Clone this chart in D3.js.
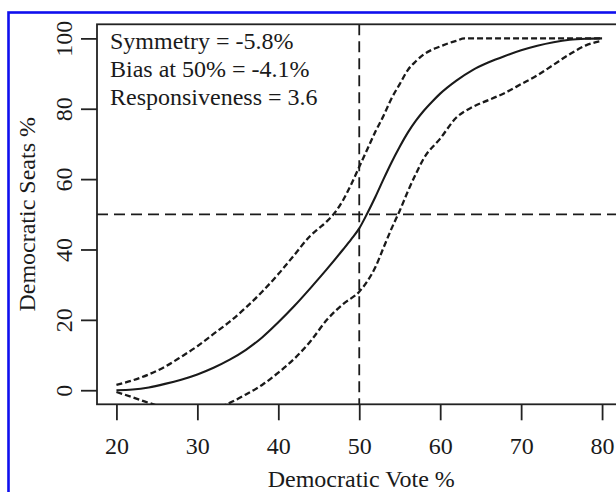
<!DOCTYPE html>
<html>
<head>
<meta charset="utf-8">
<script src="https://cdn.jsdelivr.net/npm/d3@7/dist/d3.min.js"></script>
<style>
  html, body { margin: 0; padding: 0; background: #fff; }
  svg { display: block; }
</style>
</head>
<body>
<svg id="chart" width="616" height="492"></svg>
<script>
// ---- data ----
const xTicks = [20, 30, 40, 50, 60, 70, 80];
const yTicks = [0, 20, 40, 60, 80, 100];
const annotations = ["Symmetry = -5.8%", "Bias at 50% = -4.1%", "Responsiveness = 3.6"];
const xTitle = "Democratic Vote %";
const yTitle = "Democratic Seats %";

const voteSolid = [20,22,24,26,28,30,32,34,36,38,40,42,44,46,48,49,50,51,52,53,54,55,56,57,58,59,60,62,64,66,68,70,72,74,76,78,80];
const seatsSolid = [0,0.2,0.8,1.8,3,4.5,6.4,8.7,11.5,15,19.3,24,29.1,34.4,40,42.9,46,50.3,55,60,64.8,69.2,73.2,76.6,79.5,82,84.3,88,91,93.2,95,96.6,97.9,98.9,99.6,99.9,100];

const voteUpper = [20,22,24,26,28,30,32,34,36,38,40,42,44,45,46,47,48,49,50,51,52,53,54,55,56,57,58,59,60,61,62,63,66,70,75,80];
const seatsUpper = [1.5,2.8,4.5,6.7,9.5,12.5,16,19.5,23.5,28,33,38.5,44,46,48,50.5,54,58.5,63.5,68.5,73.5,78,83,87,91,93.5,95.5,96.8,97.7,98.6,99.3,100,100,100,100,100];

const voteLower = [20,22,24,26,28,30,32,34,36,38,40,42,44,46,48,50,51,52,53,54,55,56,57,58,60,62,64,66,68,70,72,74,76,78,80];
const seatsLower = [-0.5,-2,-3.6,-5,-6,-6.5,-5.5,-3.6,-1.2,1.5,5,9,14,20,24.5,28,31,35,40.5,46,51,56.5,61.5,66,71.5,77.5,80.5,82.5,84.5,87,89.5,92.5,95.5,98,99.3];

const refVote = 50;
const refSeats = 50;

// ---- layout ----
const svg = d3.select("#chart");
const pLeft = 97, pRight = 621.5, pTop = 24.3, pBottom = 404.3;
const font = "'Liberation Serif', 'Times New Roman', serif";
const fs = 24;
const ink = "#1a1a1a";

const x = d3.scaleLinear().domain([17.6, 82.4]).range([pLeft, pRight]);
const y = d3.scaleLinear().domain([-4, 104]).range([pBottom, pTop]);

// blue frame
svg.append("rect")
  .attr("x", 8.5).attr("y", 12.5)
  .attr("width", 700).attr("height", 600)
  .attr("fill", "none").attr("stroke", "#1010ee").attr("stroke-width", 2.6);

// clip for plot region
svg.append("defs").append("clipPath").attr("id", "plotclip")
  .append("rect").attr("x", pLeft).attr("y", pTop)
  .attr("width", pRight - pLeft).attr("height", pBottom - pTop);

const plot = svg.append("g").attr("clip-path", "url(#plotclip)");

// reference lines
plot.append("line")
  .attr("x1", x(refVote)).attr("x2", x(refVote))
  .attr("y1", pTop).attr("y2", pBottom)
  .attr("stroke", ink).attr("stroke-width", 1.8).attr("stroke-dasharray", "11,6");
plot.append("line")
  .attr("x1", pLeft).attr("x2", pRight)
  .attr("y1", y(refSeats)).attr("y2", y(refSeats))
  .attr("stroke", ink).attr("stroke-width", 1.8).attr("stroke-dasharray", "11,6");

const line = d3.line().x(d => x(d[0])).y(d => y(d[1])).curve(d3.curveMonotoneX);

plot.append("path")
  .datum(d3.zip(voteUpper, seatsUpper))
  .attr("d", line).attr("fill", "none")
  .attr("stroke", ink).attr("stroke-width", 2.3).attr("stroke-dasharray", "6,3");
plot.append("path")
  .datum(d3.zip(voteLower, seatsLower))
  .attr("d", line).attr("fill", "none")
  .attr("stroke", ink).attr("stroke-width", 2.3).attr("stroke-dasharray", "6,3");
plot.append("path")
  .datum(d3.zip(voteSolid, seatsSolid))
  .attr("d", line).attr("fill", "none")
  .attr("stroke", ink).attr("stroke-width", 2.1);

// box
svg.append("rect")
  .attr("x", pLeft).attr("y", pTop)
  .attr("width", pRight - pLeft).attr("height", pBottom - pTop)
  .attr("fill", "none").attr("stroke", "#222").attr("stroke-width", 1.8);

// x axis
const gx = svg.append("g").attr("transform", `translate(0,${pBottom})`)
  .call(d3.axisBottom(x).tickValues(xTicks).tickSize(16).tickFormat(d3.format("d")));
gx.select(".domain").remove();
gx.selectAll(".tick line").attr("stroke", "#222").attr("stroke-width", 1.8);
gx.selectAll(".tick text")
  .attr("y", 50).attr("dy", 0)
  .attr("font-family", font).attr("font-size", fs).attr("fill", ink);

// y axis
const gy = svg.append("g").attr("transform", `translate(${pLeft},0)`)
  .call(d3.axisLeft(y).tickValues(yTicks).tickSize(16).tickFormat(d3.format("d")));
gy.select(".domain").remove();
gy.selectAll(".tick line").attr("stroke", "#222").attr("stroke-width", 1.8);
gy.selectAll(".tick text")
  .attr("transform", "rotate(-90)")
  .attr("x", 0).attr("y", -25).attr("dy", 0)
  .attr("text-anchor", "middle")
  .attr("font-family", font).attr("font-size", fs).attr("fill", ink);

// axis titles
svg.append("text")
  .attr("x", (pLeft + pRight) / 2 + 2).attr("y", 487)
  .attr("text-anchor", "middle")
  .attr("font-family", font).attr("font-size", fs).attr("fill", ink)
  .text(xTitle);
svg.append("text")
  .attr("transform", `translate(35,${(pTop + pBottom) / 2}) rotate(-90)`)
  .attr("text-anchor", "middle")
  .attr("font-family", font).attr("font-size", fs).attr("fill", ink)
  .text(yTitle);

// annotations
svg.append("g").selectAll("text").data(annotations).join("text")
  .attr("x", 110).attr("y", (d, i) => 48.5 + i * 28)
  .attr("font-family", font).attr("font-size", fs).attr("fill", ink)
  .text(d => d);
</script>
</body>
</html>
